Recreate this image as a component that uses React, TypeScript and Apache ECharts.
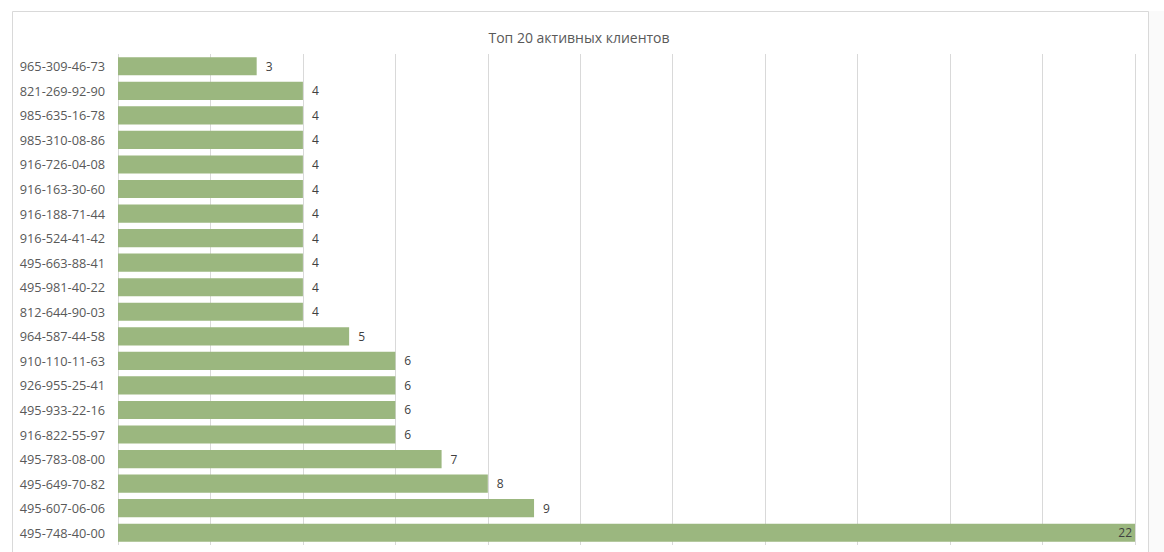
import React, { useEffect, useRef } from "react";
import * as echarts from "echarts";

const categories = [
  "965-309-46-73",
  "821-269-92-90",
  "985-635-16-78",
  "985-310-08-86",
  "916-726-04-08",
  "916-163-30-60",
  "916-188-71-44",
  "916-524-41-42",
  "495-663-88-41",
  "495-981-40-22",
  "812-644-90-03",
  "964-587-44-58",
  "910-110-11-63",
  "926-955-25-41",
  "495-933-22-16",
  "916-822-55-97",
  "495-783-08-00",
  "495-649-70-82",
  "495-607-06-06",
  "495-748-40-00",
];
const values = [3, 4, 4, 4, 4, 4, 4, 4, 4, 4, 4, 5, 6, 6, 6, 6, 7, 8, 9, 22];
const titleText = "Топ 20 активных клиентов";

export default function App() {
  const ref = useRef<HTMLDivElement>(null);
  useEffect(() => {
    document.body.style.margin = "0";
    const chart = echarts.init(ref.current!, null, { renderer: "svg" });
    const maxV = Math.max(...values);
    chart.setOption({
      animation: false,
      backgroundColor: "#ffffff",
      textStyle: { fontFamily: "Open Sans, Noto Sans, sans-serif" },
      graphic: [
        {
          type: "rect",
          shape: { x: 1148, y: 11, width: 30, height: 600 },
          style: { fill: "#fafafa" },
          silent: true,
          z: -10,
        },
        {
          type: "rect",
          shape: { x: 12.5, y: 11.5, width: 1136, height: 600 },
          style: { fill: "none", stroke: "#d9d9d9", lineWidth: 1 },
          silent: true,
          z: -5,
        },
      ],
      title: {
        text: titleText,
        left: 574,
        textAlign: "center",
        top: 25,
        textStyle: {
          fontSize: 14,
          fontWeight: "normal",
          color: "#595959",
          fontFamily: "Open Sans, Noto Sans, sans-serif",
        },
      },
      grid: { left: 118, right: 29, top: 54, bottom: 7, containLabel: false },
      xAxis: {
        type: "value",
        min: 0,
        max: 22,
        interval: 2,
        axisLabel: { show: false },
        axisLine: { show: false },
        axisTick: { show: false },
        splitLine: { show: true, lineStyle: { color: "#d9d9d9", width: 1 } },
      },
      yAxis: {
        type: "category",
        data: categories,
        inverse: true,
        axisLine: { show: false },
        axisTick: { show: false },
        axisLabel: {
          color: "#595959",
          fontSize: 12.75,
          margin: 13,
          fontFamily: "Open Sans, Noto Sans, sans-serif",
        },
      },
      series: [
        {
          type: "bar",
          barCategoryGap: "26%",
          itemStyle: { color: "#9bb77f" },
          data: values.map((v) => ({
            value: v,
            label:
              v === maxV
                ? { position: "insideRight", distance: 3 }
                : { position: "right", distance: 9 },
          })),
          label: {
            show: true,
            color: "#404040",
            fontSize: 12,
            fontFamily: "Open Sans, Noto Sans, sans-serif",
          },
        },
      ],
    });
    return () => chart.dispose();
  }, []);
  return <div ref={ref} style={{ width: 1164, height: 552 }} />;
}
